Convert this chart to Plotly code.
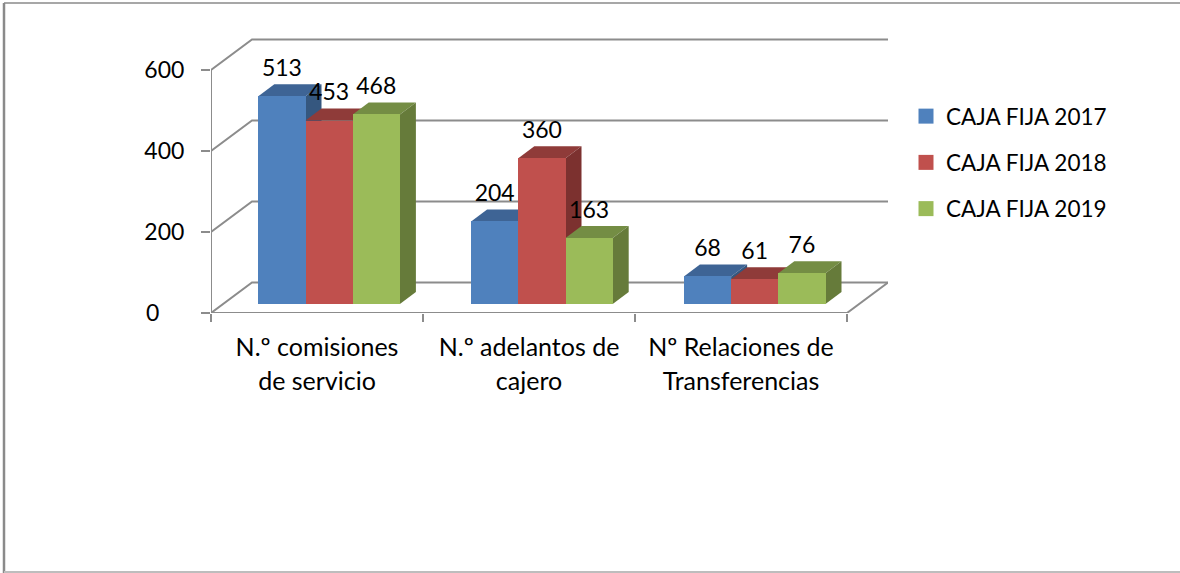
import plotly.graph_objects as go

categories = ["N.º comisiones<br>de servicio", "N.º adelantos de<br>cajero", "Nº Relaciones de<br>Transferencias"]
series_names = ["CAJA FIJA 2017", "CAJA FIJA 2018", "CAJA FIJA 2019"]
values_2017 = [513, 204, 68]
values_2018 = [453, 360, 61]
values_2019 = [468, 163, 76]
all_values = [values_2017, values_2018, values_2019]
y_ticks = [0, 200, 400, 600]

front_colors = ["#4F81BD", "#C0504D", "#9BBB59"]
top_colors = ["#3E6495", "#8F3B39", "#748D44"]
side_colors = ["#35577F", "#7C312F", "#667B3A"]
GREY = "#8C8C8C"
FONT = "Lato"
TS = 23
LEGEND_TS = 22.5
CAT_TS = 25

# geometry: pixel scales of the value and category axes
W, H = 1180, 573
L, B_PX, T = 211, 313, 30
PX_PER_CAT = 212.0
PX_PER_VAL = 0.405
WALL_DX, WALL_DY = 41 / PX_PER_CAT, 30.5 / PX_PER_VAL      # wall depth
BAR_DX, BAR_DY = 16 / PX_PER_CAT, 12 / PX_PER_VAL          # bar depth
BAR_W = 47.2 / PX_PER_CAT
GROUP_START = 47.3 / PX_PER_CAT
GROUP_PITCH = 212.8 / PX_PER_CAT
BASE = 9 / PX_PER_VAL
LABEL_UP = 26 / PX_PER_VAL

x_max = 3 + WALL_DX
wall_top = 600 + WALL_DY
y_max = (B_PX - T) / PX_PER_VAL
R = L + x_max * PX_PER_CAT

fig = go.Figure()


def line(xs, ys):
    fig.add_trace(go.Scatter(x=xs, y=ys, mode="lines", line=dict(color=GREY, width=2),
                             hoverinfo="skip", showlegend=False, cliponaxis=False, zorder=0))


for v in y_ticks:
    line([0, WALL_DX, x_max], [v, v + WALL_DY, v + WALL_DY])
line([3, x_max], [0, WALL_DY])
line([0, 0], [0, 600])
line([0, 3], [0, 0])

for s, vals in enumerate(all_values):
    xs = [i * GROUP_PITCH + GROUP_START + (s + 0.5) * BAR_W for i in range(3)]
    for xc, v in zip(xs, vals):
        x0, x1 = xc - BAR_W / 2, xc + BAR_W / 2
        top = BASE + v
        fig.add_trace(go.Scatter(
            x=[x0, x1, x1 + BAR_DX, x0 + BAR_DX, x0],
            y=[top, top, top + BAR_DY, top + BAR_DY, top],
            mode="lines", fill="toself", fillcolor=top_colors[s], line=dict(width=0),
            hoverinfo="skip", showlegend=False, zorder=2 * s + 1))
        fig.add_trace(go.Scatter(
            x=[x1, x1 + BAR_DX, x1 + BAR_DX, x1, x1],
            y=[BASE, BASE + BAR_DY, top + BAR_DY, top, BASE],
            mode="lines", fill="toself", fillcolor=side_colors[s], line=dict(width=0),
            hoverinfo="skip", showlegend=False, zorder=2 * s + 1))
    fig.add_trace(go.Bar(x=xs, y=vals, base=BASE, width=BAR_W, name=series_names[s],
                         marker=dict(color=front_colors[s], line=dict(width=0)),
                         showlegend=False, zorder=2 * s + 2))

for s, vals in enumerate(all_values):
    xs = [i * GROUP_PITCH + GROUP_START + (s + 0.5) * BAR_W for i in range(3)]
    fig.add_trace(go.Scatter(x=xs, y=[BASE + v + LABEL_UP for v in vals], mode="text",
                             text=[str(v) for v in vals], textposition="middle center",
                             textfont=dict(family=FONT, size=TS, color="#000000"),
                             hoverinfo="skip", showlegend=False, zorder=20))
    fig.add_trace(go.Scatter(x=[None], y=[None], mode="markers", name=series_names[s],
                             legendgroup=series_names[s],
                             marker=dict(symbol="square", size=15, color=front_colors[s]),
                             showlegend=True))


def px_x(p):
    return (p - L) / (R - L)


def px_y(p):
    return (B_PX - p) / (B_PX - T)


def border(x0, y0, x1, y1, color, width):
    return dict(type="line", xref="paper", yref="paper", x0=px_x(x0), x1=px_x(x1),
                y0=px_y(y0), y1=px_y(y1), line=dict(color=color, width=width))


pad = "\u00a0" * 4 + "\u200a"
y_text = [str(v) if v else "0" + pad for v in y_ticks]
x_text = ["<br>".join(f"<span style='font-size:{CAT_TS}px'>{p}</span>" for p in c.split("<br>")) for c in categories]

fig.update_layout(
    width=W, height=H, autosize=False, bargap=0,
    margin=dict(l=L, r=W - R, t=T, b=H - B_PX, pad=0),
    paper_bgcolor="#FFFFFF", plot_bgcolor="rgba(0,0,0,0)",
    font=dict(family=FONT, size=TS, color="#000000"),
    xaxis=dict(range=[0, x_max], showgrid=False, zeroline=False, showline=False,
               tickmode="array", tickvals=[0.5, 1.5, 2.5], ticktext=x_text, ticks="",
               ticklabelstandoff=16,
               tickfont=dict(family=FONT, size=26, color="#000000"),
               minor=dict(tickmode="array", tickvals=[0, 1, 2, 3], ticks="outside",
                          ticklen=8, tickwidth=2, tickcolor=GREY, showgrid=False)),
    yaxis=dict(range=[0, y_max], showgrid=False, zeroline=False, showline=False,
               tickmode="array", tickvals=y_ticks, ticktext=y_text, ticks="outside",
               ticklen=9, tickwidth=2, tickcolor=GREY, ticklabelstandoff=12,
               tickfont=dict(family=FONT, size=TS, color="#000000")),
    legend=dict(x=px_x(906), xanchor="left", y=px_y(95), yanchor="top",
                tracegroupgap=14, itemsizing="trace", bgcolor="rgba(0,0,0,0)",
                font=dict(family=FONT, size=LEGEND_TS, color="#000000")),
    shapes=[
        border(4, 3, 1180, 3, "#8A8A8A", 1.5),
        border(4, 3, 4, 573, "#8A8A8A", 2.5),
        border(4, 572, 1180, 572, "#BDBDBD", 2),
    ],
)

fig.write_html("out.html", post_script="document.body.style.margin='0';",
               config=dict(displayModeBar=False))
